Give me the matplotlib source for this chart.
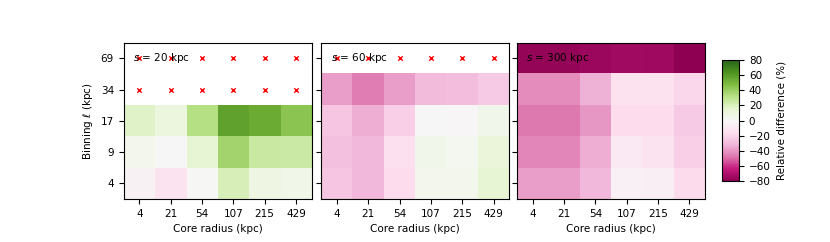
import numpy as np
import matplotlib
matplotlib.use("Agg")
import matplotlib.pyplot as plt

core_radius = ["4", "21", "54", "107", "215", "429"]
binning = ["4", "9", "17", "34", "69"]
smoothing = [20, 60, 300]

nan = np.nan
# rows: binning 4, 9, 17, 34, 69 ; columns: core radius
diff_s20 = [
    [-4, -13, 1, 21, 8, 6],
    [4, 0, 14, 38, 26, 25],
    [18, 10, 32, 58, 54, 44],
    [nan, nan, nan, nan, nan, nan],
    [nan, nan, nan, nan, nan, nan],
]
diff_s60 = [
    [-26, -31, -17, 4, 4, 14],
    [-28, -31, -16, 5, 3, 12],
    [-26, -34, -22, 0, -1, 5],
    [-38, -46, -38, -30, -29, -24],
    [nan, nan, nan, nan, nan, nan],
]
diff_s300 = [
    [-38, -38, -31, -5, -6, -18],
    [-44, -44, -34, -10, -13, -22],
    [-47, -47, -40, -17, -17, -24],
    [-42, -42, -33, -15, -14, -19],
    [-78, -78, -76, -74, -75, -80],
]

fig = plt.figure(figsize=(8.3, 2.42), dpi=100)
lefts = [0.149, 0.387, 0.623]
axes = [fig.add_axes([l, 0.178, 0.2265, 0.645]) for l in lefts]

for ax, s, data in zip(axes, smoothing, [diff_s20, diff_s60, diff_s300]):
    arr = np.array(data, dtype=float)
    im = ax.imshow(arr, cmap="PiYG", vmin=-80, vmax=80, origin="lower",
                   aspect="auto", interpolation="nearest")
    rows, cols = np.where(np.isnan(arr))
    ax.scatter(cols, rows, marker="x", color="red", s=10, linewidths=1)
    ax.set_xticks(range(len(core_radius)))
    ax.set_xticklabels(core_radius, fontsize=7.5)
    ax.set_yticks(range(len(binning)))
    ax.set_yticklabels(binning, fontsize=7.5)
    ax.set_xlabel("Core radius (kpc)", fontsize=7.5)
    ax.text(0.05, 0.9, f"$s$ = {s} kpc", transform=ax.transAxes, fontsize=7.5,
            va="center", ha="left")
    ax.set_xlim(-0.5, 5.5)
    ax.set_ylim(-0.5, 4.5)

axes[0].set_ylabel(r"Binning $\ell$ (kpc)", fontsize=7.5)
for ax in axes[1:]:
    ax.set_yticklabels([])

cax = fig.add_axes([0.870, 0.252, 0.0205, 0.5])
cb = fig.colorbar(im, cax=cax, ticks=np.arange(-80, 81, 20))
cb.ax.tick_params(labelsize=7.5)
cb.set_label("Relative difference (%)", fontsize=7.5)

fig.savefig("out.png", dpi=100)
